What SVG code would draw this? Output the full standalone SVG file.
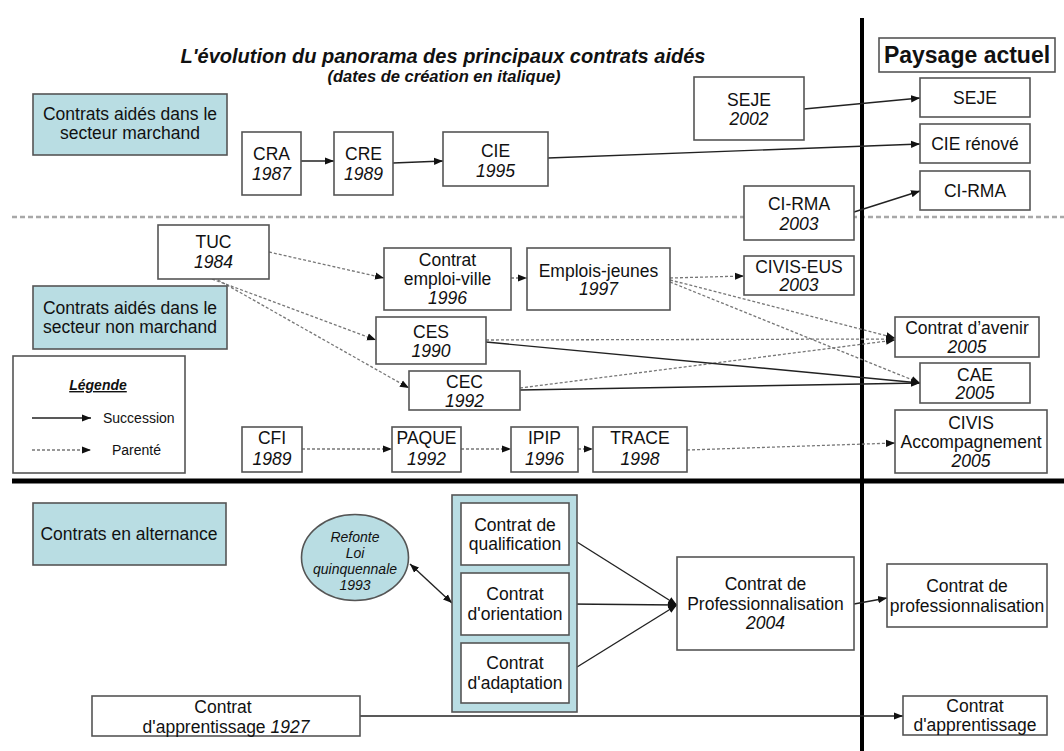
<svg xmlns="http://www.w3.org/2000/svg" width="1064" height="751" viewBox="0 0 1064 751">
<defs>
<marker id="ah" viewBox="0 0 10 10" refX="10" refY="5" markerWidth="9" markerHeight="9" markerUnits="userSpaceOnUse" orient="auto-start-reverse"><path d="M0,1 L10,5 L0,9 z" fill="#111"/></marker>
</defs>
<style>
text{font-family:"Liberation Sans",Arial,sans-serif;fill:#111;}
.t{font-size:17.5px;text-anchor:middle;}
.y{font-size:17.5px;text-anchor:middle;font-style:italic;}
.box{fill:#fff;stroke:#555;stroke-width:1.6;}
.blue{fill:#b9dde3;stroke:#555;stroke-width:1.6;}
.sol{fill:none;stroke:#222;stroke-width:1.4;marker-end:url(#ah);}
.dot{fill:none;stroke:#777;stroke-width:1.3;stroke-dasharray:3 2;marker-end:url(#ah);}
.leg{font-size:14px;}
.ell{font-size:14px;font-style:italic;text-anchor:middle;}
</style>
<rect width="1064" height="751" fill="#fff"/>
<g id="dividers">
<line x1="12" y1="217" x2="1064" y2="217" stroke="#a8a8a8" stroke-width="2.5" stroke-dasharray="5 3"/>
<line x1="12" y1="481" x2="1064" y2="481" stroke="#000" stroke-width="5"/>
<line x1="862" y1="18" x2="862" y2="751" stroke="#000" stroke-width="4"/>
</g>
<g id="title">
<text x="443" y="63" style="font-size:20px;font-weight:bold;font-style:italic;text-anchor:middle">L'évolution du panorama des principaux contrats aidés</text>
<text x="444" y="82" style="font-size:16.5px;font-weight:bold;font-style:italic;text-anchor:middle">(dates de création en italique)</text>
</g>
<g id="paysage"><rect class="box" x="879" y="38" width="176" height="34"/><text x="967" y="63" style="font-size:23px;font-weight:bold;text-anchor:middle">Paysage actuel</text></g>
<g id="connectors">
<line class="sol" x1="804" y1="109" x2="920" y2="98"/>
<line class="sol" x1="548" y1="158" x2="920" y2="144"/>
<line class="sol" x1="854" y1="212" x2="920" y2="191"/>
<line class="sol" x1="301" y1="161" x2="334" y2="161"/>
<line class="sol" x1="393" y1="163" x2="443" y2="161"/>
<line class="dot" x1="269" y1="252" x2="384" y2="278"/>
<line class="dot" x1="511" y1="278" x2="527" y2="278"/>
<line class="dot" x1="212" y1="279" x2="376" y2="340"/>
<line class="dot" x1="218" y1="280" x2="409" y2="388"/>
<line class="dot" x1="670" y1="278" x2="744" y2="276"/>
<line class="dot" x1="670" y1="280" x2="895" y2="338"/>
<line class="dot" x1="670" y1="282" x2="920" y2="383"/>
<line class="dot" x1="486" y1="340" x2="895" y2="339"/>
<line class="dot" x1="520" y1="388" x2="895" y2="340"/>
<line class="sol" x1="486" y1="342" x2="920" y2="383"/>
<line class="sol" x1="520" y1="390" x2="920" y2="383"/>
<line class="dot" x1="302" y1="449" x2="392" y2="449"/>
<line class="dot" x1="461" y1="449" x2="511" y2="449"/>
<line class="dot" x1="578" y1="449" x2="593" y2="449"/>
<line class="dot" x1="687" y1="450" x2="895" y2="443"/>
<line class="sol" x1="410" y1="564" x2="452" y2="603" style="marker-start:url(#ah)"/>
<line class="sol" x1="569" y1="537" x2="677" y2="605"/>
<line class="sol" x1="569" y1="604" x2="677" y2="605"/>
<line class="sol" x1="569" y1="672" x2="677" y2="605"/>
<line class="sol" x1="854" y1="604" x2="887" y2="598"/>
<line class="sol" x1="360" y1="716" x2="903" y2="716"/>
</g>
<g id="sect-marchand"><rect class="blue" x="33" y="94" width="194" height="61"/><text class="t" x="130" y="120">Contrats aidés dans le</text><text class="t" x="130" y="139">secteur marchand</text></g>
<g id="sect-nonmarchand"><rect class="blue" x="33" y="286" width="194" height="63"/><text class="t" x="130" y="314">Contrats aidés dans le</text><text class="t" x="130" y="333">secteur non marchand</text></g>
<g id="sect-alternance"><rect class="blue" x="33" y="503" width="193" height="62"/><text class="t" x="129" y="540">Contrats en alternance</text></g>
<g id="seje-old"><rect class="box" x="694" y="77" width="110" height="63"/><text class="t" x="749" y="106">SEJE</text><text class="y" x="749" y="125">2002</text></g>
<g id="seje-new"><rect class="box" x="920" y="78" width="110" height="39"/><text class="t" x="975" y="104">SEJE</text></g>
<g id="cie-renove"><rect class="box" x="920" y="124" width="110" height="39"/><text class="t" x="975" y="150">CIE rénové</text></g>
<g id="cirma-new"><rect class="box" x="920" y="171" width="110" height="39"/><text class="t" x="975" y="197">CI-RMA</text></g>
<g id="cirma-old"><rect class="box" x="744" y="186" width="110" height="54"/><text class="t" x="799" y="210">CI-RMA</text><text class="y" x="799" y="230">2003</text></g>
<g id="cra"><rect class="box" x="242" y="132" width="59" height="63"/><text class="t" x="271.5" y="160">CRA</text><text class="y" x="271.5" y="180">1987</text></g>
<g id="cre"><rect class="box" x="334" y="132" width="59" height="63"/><text class="t" x="363.5" y="160">CRE</text><text class="y" x="363.5" y="180">1989</text></g>
<g id="cie"><rect class="box" x="443" y="132" width="105" height="54"/><text class="t" x="495.5" y="157">CIE</text><text class="y" x="495.5" y="177">1995</text></g>
<g id="tuc"><rect class="box" x="158" y="225" width="111" height="54"/><text class="t" x="213.5" y="248">TUC</text><text class="y" x="213.5" y="268">1984</text></g>
<g id="emploi-ville"><rect class="box" x="384" y="248" width="127" height="62"/><text class="t" x="447.5" y="266">Contrat</text><text class="t" x="447.5" y="285">emploi-ville</text><text class="y" x="447.5" y="304">1996</text></g>
<g id="emplois-jeunes"><rect class="box" x="527" y="248" width="143" height="62"/><text class="t" x="598.5" y="277">Emplois-jeunes</text><text class="y" x="598.5" y="295">1997</text></g>
<g id="civis-eus"><rect class="box" x="744" y="256" width="110" height="39"/><text class="t" x="799" y="273">CIVIS-EUS</text><text class="y" x="799" y="291">2003</text></g>
<g id="ces"><rect class="box" x="376" y="317" width="110" height="47"/><text class="t" x="431" y="338">CES</text><text class="y" x="431" y="357">1990</text></g>
<g id="cec"><rect class="box" x="409" y="371" width="111" height="39"/><text class="t" x="464.5" y="388">CEC</text><text class="y" x="464.5" y="407">1992</text></g>
<g id="contrat-avenir"><rect class="box" x="895" y="317" width="144" height="40"/><text class="t" x="967" y="334">Contrat d’avenir</text><text class="y" x="967" y="353">2005</text></g>
<g id="cae"><rect class="box" x="920" y="363" width="110" height="40"/><text class="t" x="975" y="381">CAE</text><text class="y" x="975" y="399">2005</text></g>
<g id="civis-accomp"><rect class="box" x="895" y="410" width="152" height="63"/><text class="t" x="971" y="429">CIVIS</text><text class="t" x="971" y="448">Accompagnement</text><text class="y" x="971" y="467">2005</text></g>
<g id="legende"><rect class="box" x="13" y="356" width="172" height="117"/>
<text x="98" y="390" style="font-size:14px;font-weight:bold;font-style:italic;text-anchor:middle;text-decoration:underline">Légende</text>
<line class="sol" x1="32" y1="418" x2="91" y2="418"/><text class="leg" x="103" y="423">Succession</text>
<line class="dot" x1="32" y1="450" x2="91" y2="450"/><text class="leg" x="112" y="455">Parenté</text>
</g>
<g id="cfi"><rect class="box" x="242" y="427" width="60" height="45"/><text class="t" x="272" y="444">CFI</text><text class="y" x="272" y="465">1989</text></g>
<g id="paque"><rect class="box" x="392" y="427" width="69" height="45"/><text class="t" x="426.5" y="444">PAQUE</text><text class="y" x="426.5" y="465">1992</text></g>
<g id="ipip"><rect class="box" x="511" y="427" width="67" height="45"/><text class="t" x="544.5" y="444">IPIP</text><text class="y" x="544.5" y="465">1996</text></g>
<g id="trace"><rect class="box" x="593" y="427" width="94" height="45"/><text class="t" x="640" y="444">TRACE</text><text class="y" x="640" y="465">1998</text></g>
<g id="refonte"><ellipse cx="355" cy="557.5" rx="53.5" ry="43" fill="#b9dde3" stroke="#555" stroke-width="1.6"/><text class="ell" x="355" y="542">Refonte</text><text class="ell" x="355" y="558">Loi</text><text class="ell" x="355" y="574">quinquennale</text><text class="ell" x="355" y="590">1993</text></g>
<g id="alternance-group"><rect class="blue" x="452" y="495" width="125" height="217"/></g>
<g id="qualification"><rect class="box" x="461" y="503" width="108" height="62"/><text class="t" x="515" y="531">Contrat de</text><text class="t" x="515" y="550">qualification</text></g>
<g id="orientation"><rect class="box" x="461" y="573" width="108" height="62"/><text class="t" x="515" y="600">Contrat</text><text class="t" x="515" y="620">d'orientation</text></g>
<g id="adaptation"><rect class="box" x="461" y="643" width="108" height="60"/><text class="t" x="515" y="669">Contrat</text><text class="t" x="515" y="689">d'adaptation</text></g>
<g id="pro-2004"><rect class="box" x="677" y="557" width="177" height="93"/><text class="t" x="765.5" y="590">Contrat de</text><text class="t" x="765.5" y="610">Professionnalisation</text><text class="y" x="765.5" y="629">2004</text></g>
<g id="pro-new"><rect class="box" x="887" y="564" width="160" height="63"/><text class="t" x="967" y="592">Contrat de</text><text class="t" x="967" y="612">professionnalisation</text></g>
<g id="apprent-old"><rect class="box" x="92" y="696" width="268" height="40"/><text class="t" x="223" y="713">Contrat</text><text class="t" x="226" y="733">d'apprentissage <tspan font-style="italic">1927</tspan></text></g>
<g id="apprent-new"><rect class="box" x="903" y="696" width="144" height="39"/><text class="t" x="975" y="712">Contrat</text><text class="t" x="975" y="731">d'apprentissage</text></g>
</svg>
